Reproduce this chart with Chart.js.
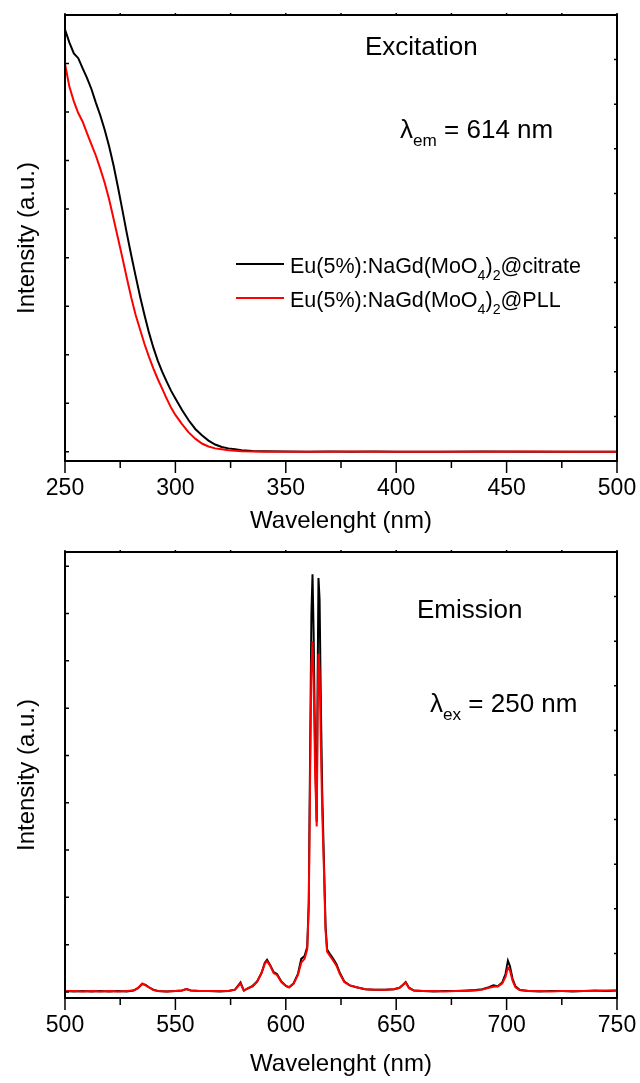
<!DOCTYPE html>
<html>
<head>
<meta charset="utf-8">
<script src="https://cdn.jsdelivr.net/npm/chart.js@4.4.0/dist/chart.umd.min.js"></script>
<style>
  html, body { margin: 0; padding: 0; background: #fff; }
  #wrap { position: relative; width: 640px; height: 1083px; }
  .box { position: absolute; left: 0; width: 640px; }
  #top { top: 0; height: 541px; }
  #bottom { top: 541px; height: 542px; }
</style>
</head>
<body>
<div id="wrap">
  <div class="box" id="top"><canvas id="excitationChart"></canvas></div>
  <div class="box" id="bottom"><canvas id="emissionChart"></canvas></div>
</div>
<script>
// Excitation spectra (lambda_em = 614 nm), intensity in arbitrary units
const exWave = [250, 252, 254, 256, 258, 260, 262, 264, 266, 268, 270, 272, 274, 276, 278, 280,
    282, 284, 286, 288, 290, 292, 294, 296, 298, 300, 303, 306, 309, 312, 315, 318, 321, 324,
    327, 330, 335, 340, 350, 360, 370, 380, 390, 400, 420, 440, 460, 480, 500];
const exCitrate = [8.70, 8.43, 8.21, 8.11, 7.90, 7.70, 7.47, 7.19, 6.93, 6.63, 6.29, 5.90, 5.45,
    4.98, 4.50, 4.05, 3.62, 3.20, 2.82, 2.46, 2.15, 1.88, 1.65, 1.45, 1.26, 1.10, 0.86, 0.65,
    0.47, 0.34, 0.23, 0.15, 0.10, 0.07, 0.05, 0.03, 0.015, 0.01, 0.005, 0.0, 0.005, 0.0, 0.005,
    0.0, 0.0, 0.005, 0.0, 0.0, 0.0];
const exPLL = [7.99, 7.52, 7.22, 6.98, 6.80, 6.56, 6.33, 6.10, 5.83, 5.54, 5.20, 4.80, 4.40,
    4.00, 3.58, 3.18, 2.82, 2.52, 2.22, 1.96, 1.72, 1.50, 1.30, 1.10, 0.91, 0.76, 0.57, 0.40,
    0.27, 0.17, 0.11, 0.07, 0.05, 0.03, 0.02, 0.01, 0.005, 0.0, 0.0, 0.0, 0.0, 0.005, 0.0,
    0.0, 0.0, 0.0, 0.005, 0.0, 0.0];

// Emission spectra (lambda_ex = 250 nm)
const emWave = [500, 504, 508, 512, 516, 520, 524, 528, 531, 533, 535, 536.5, 538, 540, 542, 546,
    550, 553, 555, 557, 561, 565, 570, 574, 577, 579.5, 581, 583, 585, 587, 589, 590.5, 591.5,
    593, 594.5, 596, 598, 600, 601.5, 603.5, 605.5, 607, 608.5, 609.7, 610.4, 611.0, 611.6,
    612.1, 612.6, 613.3, 614.0, 614.4, 614.8, 615.3, 615.9, 616.5, 617.2, 618.0, 618.7, 620,
    621.5, 623, 624.5, 626.5, 629, 632, 636, 640, 645, 649, 651.5, 653, 654.3, 655.8, 658, 662,
    667, 672, 677, 682, 686, 689, 692, 694, 696, 698, 699.5, 700.6, 701.5, 702.7, 704, 706, 710,
    715, 720, 725, 730, 735, 740, 745, 750];
const emCitrate = [0.02, 0.01, 0.02, 0.01, 0.02, 0.01, 0.02, 0.01, 0.03, 0.08, 0.17, 0.15, 0.10,
    0.05, 0.02, 0.01, 0.02, 0.03, 0.06, 0.03, 0.02, 0.02, 0.01, 0.02, 0.05, 0.20, 0.03, 0.08,
    0.13, 0.22, 0.40, 0.62, 0.68, 0.56, 0.42, 0.38, 0.22, 0.13, 0.10, 0.18, 0.38, 0.70, 0.76,
    0.95, 1.9, 5.0, 8.0, 8.83, 7.6, 5.0, 3.6, 6.5, 8.75, 8.3, 6.0, 4.2, 2.9, 1.4, 0.90, 0.80,
    0.70, 0.58, 0.40, 0.22, 0.14, 0.10, 0.06, 0.05, 0.05, 0.06, 0.09, 0.15, 0.21, 0.09, 0.03,
    0.02, 0.01, 0.02, 0.02, 0.03, 0.04, 0.06, 0.10, 0.14, 0.12, 0.20, 0.38, 0.66, 0.55, 0.28,
    0.12, 0.04, 0.02, 0.01, 0.02, 0.02, 0.01, 0.02, 0.03, 0.02, 0.03];
const emPLL = [0.02, 0.02, 0.01, 0.02, 0.01, 0.02, 0.01, 0.02, 0.03, 0.08, 0.18, 0.14, 0.10,
    0.04, 0.02, 0.01, 0.02, 0.03, 0.06, 0.03, 0.02, 0.02, 0.02, 0.02, 0.05, 0.18, 0.03, 0.08,
    0.12, 0.22, 0.40, 0.60, 0.65, 0.55, 0.40, 0.36, 0.21, 0.13, 0.10, 0.17, 0.36, 0.62, 0.70,
    0.90, 1.8, 4.5, 6.9, 7.42, 6.6, 4.6, 3.5, 5.8, 7.15, 6.8, 5.2, 3.8, 2.7, 1.3, 0.85, 0.76,
    0.66, 0.55, 0.38, 0.21, 0.14, 0.10, 0.06, 0.05, 0.05, 0.06, 0.09, 0.15, 0.20, 0.08, 0.03,
    0.02, 0.02, 0.01, 0.02, 0.02, 0.03, 0.05, 0.09, 0.11, 0.12, 0.18, 0.32, 0.52, 0.46, 0.24,
    0.10, 0.04, 0.02, 0.02, 0.01, 0.02, 0.02, 0.02, 0.02, 0.03, 0.03];

const seriesNames = ['Eu(5%):NaGd(MoO4)2@citrate', 'Eu(5%):NaGd(MoO4)2@PLL'];
const seriesColors = ['#000000', '#ff0000'];
const leftTicks = [0, 1, 2, 3, 4, 5, 6, 7, 8, 9];
const rightTicks = [0, 1, 2, 3, 4, 5, 6, 7, 8, 9, 10];

const FONT = '"Liberation Sans", Arial, Helvetica, sans-serif';

function toPoints(xs, ys) {
    return xs.map((x, i) => ({ x: x, y: ys[i] }));
}

// draws text with subscripts, parts = [[text, isSub], ...]
function drawRich(ctx, parts, x, y, size) {
    let cx = x;
    parts.forEach(([t, sub]) => {
        const s = sub ? size * 0.66 : size;
        ctx.font = s + 'px ' + FONT;
        ctx.fillText(t, cx, y + (sub ? size * 0.32 : 0));
        cx += ctx.measureText(t).width;
    });
}

// box frame plus tick marks, drawn through the chart scales
const frameTicks = {
    id: 'frameTicks',
    afterDatasetsDraw(chart) {
        const { ctx, chartArea: a, scales } = chart;
        ctx.save();
        ctx.strokeStyle = '#000';
        ctx.lineWidth = 2;
        ctx.strokeRect(a.left, a.top, a.right - a.left, a.bottom - a.top);
        ctx.lineWidth = 1.5;
        ctx.beginPath();
        const xs = scales.x;
        for (let v = xs.min; v <= xs.max; v += 25) {
            const px = xs.getPixelForValue(v);
            const major = (v % 50) === 0;
            ctx.moveTo(px, a.bottom);
            ctx.lineTo(px, a.bottom + (major ? 12 : 7));
            ctx.moveTo(px, a.top);
            ctx.lineTo(px, a.top - 2);
        }
        leftTicks.forEach(v => {
            const py = scales.y.getPixelForValue(v);
            ctx.moveTo(a.left, py);
            ctx.lineTo(a.left + 4, py);
        });
        rightTicks.forEach(v => {
            const py = scales.y2.getPixelForValue(v);
            ctx.moveTo(a.right, py);
            ctx.lineTo(a.right - 3, py);
        });
        ctx.stroke();
        ctx.restore();
    }
};

const annotations = {
    id: 'annotations',
    afterDraw(chart, args, opts) {
        const ctx = chart.ctx;
        ctx.save();
        ctx.fillStyle = '#000';
        ctx.textBaseline = 'alphabetic';
        ctx.textAlign = 'left';
        ctx.font = '26px ' + FONT;
        ctx.fillText(opts.title, opts.titlePos[0], opts.titlePos[1]);
        drawRich(ctx, [['\u03bb', false], [opts.sub, true], [' = ' + opts.value, false]],
            opts.lambdaPos[0], opts.lambdaPos[1], 26);
        if (opts.legend) {
            chart.data.datasets.forEach((ds, i) => {
                const y = 264 + i * 34;
                ctx.strokeStyle = ds.borderColor;
                ctx.lineWidth = 2;
                ctx.beginPath();
                ctx.moveTo(236, y);
                ctx.lineTo(284, y);
                ctx.stroke();
                ctx.fillStyle = '#000';
                const tail = i === 0 ? '@citrate' : '@PLL';
                drawRich(ctx, [['Eu(5%):NaGd(MoO', false], ['4', true], [')', false], ['2', true],
                    [tail, false]], 290, y + 9, 21.5);
            });
        }
        ctx.restore();
    }
};

function makeChart(id, opts) {
    const ctx = document.getElementById(id).getContext('2d');
    return new Chart(ctx, {
        type: 'line',
        data: {
            datasets: [
                {
                    label: seriesNames[0],
                    data: toPoints(opts.wave, opts.a),
                    borderColor: seriesColors[0],
                    borderWidth: 2,
                    pointRadius: 0,
                    tension: 0,
                    order: 1
                },
                {
                    label: seriesNames[1],
                    data: toPoints(opts.wave, opts.b),
                    borderColor: seriesColors[1],
                    borderWidth: 2,
                    pointRadius: 0,
                    tension: 0,
                    order: 0
                }
            ]
        },
        options: {
            responsive: true,
            maintainAspectRatio: false,
            animation: false,
            devicePixelRatio: 1,
            layout: { padding: { top: opts.padTop, right: 23, left: 0, bottom: 0 } },
            plugins: {
                legend: { display: false },
                tooltip: { enabled: false },
                annotations: opts.notes
            },
            scales: {
                x: {
                    type: 'linear',
                    min: opts.xMin,
                    max: opts.xMax,
                    grid: { display: false, drawTicks: false },
                    border: { display: false },
                    ticks: {
                        stepSize: 50,
                        padding: 14,
                        color: '#000',
                        maxRotation: 0,
                        font: { family: FONT, size: 23 }
                    },
                    title: {
                        display: true,
                        text: 'Wavelenght (nm)',
                        color: '#000',
                        font: { family: FONT, size: 24 },
                        padding: { top: 0, bottom: opts.titleBottom }
                    },
                    afterFit: s => {
                        s.height = opts.xHeight;
                        s.paddingLeft = 0;
                        s.paddingRight = 0;
                    }
                },
                y: {
                    min: opts.yMin,
                    max: opts.yMax,
                    grid: { display: false, drawTicks: false },
                    border: { display: false },
                    ticks: { display: false },
                    title: {
                        display: true,
                        text: 'Intensity (a.u.)',
                        color: '#000',
                        font: { family: FONT, size: 24 },
                        padding: { top: 13, bottom: 0 }
                    },
                    afterFit: s => { s.width = 65; }
                },
                y2: {
                    position: 'right',
                    min: 0,
                    max: 10,
                    grid: { display: false, drawTicks: false },
                    border: { display: false },
                    ticks: { display: false },
                    afterFit: s => { s.width = 0; }
                }
            }
        },
        plugins: [frameTicks, annotations]
    });
}

makeChart('excitationChart', {
    wave: exWave, a: exCitrate, b: exPLL,
    xMin: 250, xMax: 500, yMin: -0.19, yMax: 9.0,
    padTop: 15, xHeight: 80, titleBottom: 5,
    notes: {
        title: 'Excitation', titlePos: [365, 55],
        sub: 'em', value: '614 nm', lambdaPos: [400, 138],
        legend: true
    }
});

makeChart('emissionChart', {
    wave: emWave, a: emCitrate, b: emPLL,
    xMin: 500, xMax: 750, yMin: -0.127, yMax: 9.30,
    padTop: 11, xHeight: 85, titleBottom: 4,
    notes: {
        title: 'Emission', titlePos: [417, 77],
        sub: 'ex', value: '250 nm', lambdaPos: [430, 171],
        legend: false
    }
});
</script>
</body>
</html>
